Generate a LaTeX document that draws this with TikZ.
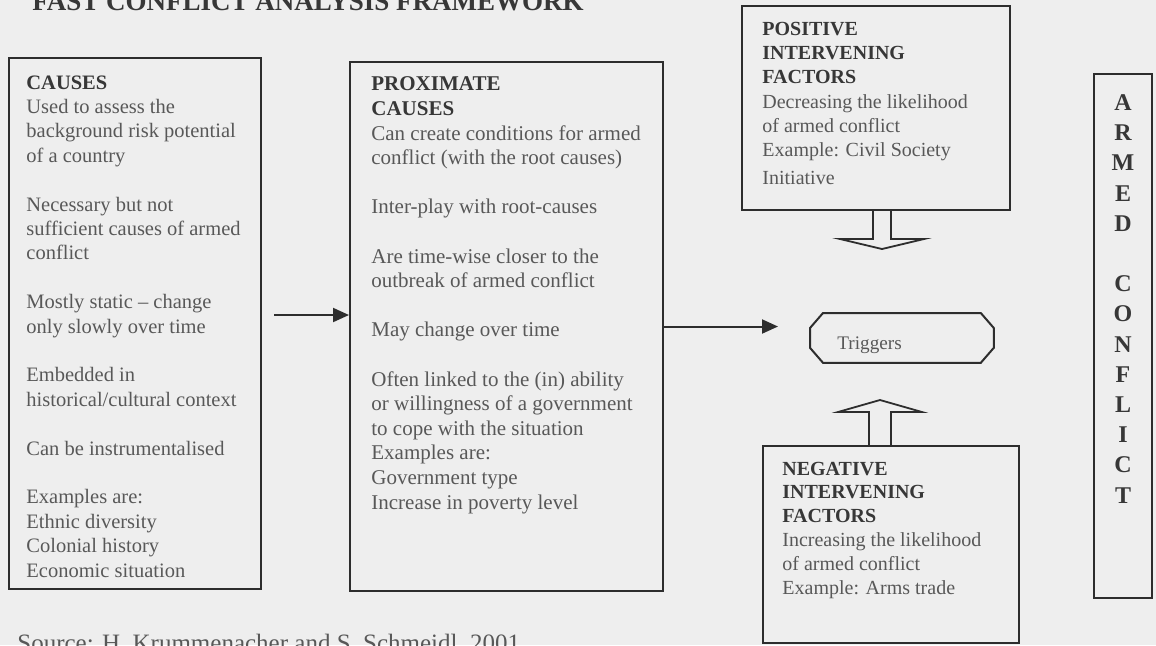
\documentclass[tikz,border=0pt]{standalone}
\usepackage{fontspec}
\setmainfont{Liberation Serif}
\usetikzlibrary{arrows.meta,calc}
\definecolor{bg}{RGB}{238,238,238}
\definecolor{ln}{RGB}{45,45,45}
\definecolor{txt}{RGB}{88,88,88}
\definecolor{hd}{RGB}{55,55,55}
\begin{document}
\begin{tikzpicture}[x=0.5pt,y=-0.5pt,
  box/.style={draw=ln, line width=1pt, anchor=north west, inner sep=0pt},
  body/.style={anchor=base west, inner sep=0pt, align=left, text=txt},
  arr/.style={draw=ln, line width=1pt, -{Triangle[length=8pt,width=7pt]}},
  blk/.style={draw=ln, line width=0.9pt, line join=miter}]
\fill[bg] (0,0) rectangle (1156,645);
\useasboundingbox (0,0) rectangle (1156,645);

% title (cut at top edge)
\node[anchor=base west, inner sep=0pt, font=\bfseries\fontsize{13.5}{16}\selectfont, text=hd] (title) at (32,10) {FAST CONFLICT ANALYSIS FRAMEWORK};

% boxes
\node[box, minimum width=126pt, minimum height=265.5pt] (causes) at (8,57) {};
\node[box, minimum width=156.5pt, minimum height=264.5pt] (prox) at (349,61) {};
\node[box, minimum width=134pt, minimum height=102pt] (pos) at (741,5) {};
\node[box, minimum width=128pt, minimum height=98.5pt] (neg) at (762,445) {};
\node[box, minimum width=29pt, minimum height=262pt] (armed) at (1093,73) {};
\node[anchor=north west, inner sep=0pt, minimum width=91.5pt, minimum height=24.5pt] (trig) at (810,313) {};
\draw[draw=ln, line width=1pt]
  ([xshift=6.5pt]trig.north west) -- ([xshift=-6.5pt]trig.north east)
  -- ([yshift=-7.5pt]trig.north east) -- ([yshift=7.5pt]trig.south east)
  -- ([xshift=-6.5pt]trig.south east) -- ([xshift=6.5pt]trig.south west)
  -- ([yshift=7.5pt]trig.south west) -- ([yshift=-7.5pt]trig.north west) -- cycle;

% texts (anchored at the baseline of the last line)
\node[body, font=\fontsize{10.25}{12.2}\selectfont] (causestxt) at (26,577)
 {\textbf{\color{hd}CAUSES}\\
  Used to assess the\\
  background risk potential\\
  of a country\\[12.2pt]
  Necessary but not\\
  sufficient causes of armed\\
  conflict\\[12.2pt]
  Mostly static – change\\
  only slowly over time\\[12.2pt]
  Embedded in\\
  historical/cultural context\\[12.2pt]
  Can be instrumentalised\\[12.2pt]
  Examples are:\\
  Ethnic diversity\\
  Colonial history\\
  Economic situation};

\node[body, font=\fontsize{10.5}{12.3}\selectfont] (proxtxt) at (371,509)
 {\textbf{\color{hd}PROXIMATE}\\
  \textbf{\color{hd}CAUSES}\\
  Can create conditions for armed\\
  conflict (with the root causes)\\[12.3pt]
  Inter-play with root-causes\\[12.3pt]
  Are time-wise closer to the\\
  outbreak of armed conflict\\[12.3pt]
  May change over time\\[12.3pt]
  Often linked to the (in) ability\\
  or willingness of a government\\
  to cope with the situation\\
  Examples are:\\
  Government type\\
  Increase in poverty level};

\node[body, font=\fontsize{10}{12.15}\selectfont] (postxt) at (762,184)
 {\textbf{\color{hd}POSITIVE}\\
  \textbf{\color{hd}INTERVENING}\\
  \textbf{\color{hd}FACTORS}\\
  Decreasing the likelihood\\
  of armed conflict\\
  Example: Civil Society\\[1.5pt]
  Initiative};

\node[body, font=\fontsize{10}{11.9}\selectfont] (negtxt) at (782,594)
 {\textbf{\color{hd}NEGATIVE}\\
  \textbf{\color{hd}INTERVENING}\\
  \textbf{\color{hd}FACTORS}\\
  Increasing the likelihood\\
  of armed conflict\\
  Example: Arms trade};

\node[anchor=base west, inner sep=0pt, font=\fontsize{9.6}{11}\selectfont, text=txt] (trigtxt) at (837,349) {Triggers};

\node[anchor=base, inner sep=0pt, align=center, text=hd, font=\bfseries\fontsize{12}{15.1}\selectfont] (armedtxt) at (1123,503)
 {A\\R\\M\\E\\D\\[15.1pt]C\\O\\N\\F\\L\\I\\C\\T};

\node[anchor=base west, inner sep=0pt, font=\fontsize{12.5}{15}\selectfont, text=txt] (src) at (17,651) {Source: H. Krummenacher and S. Schmeidl, 2001};

% connectors
\coordinate (a1) at ([yshift=4.25pt]causes.east);
\draw[arr, shorten <=6pt] (a1) -- (a1 -| prox.west);
\draw[arr, shorten >=16pt] (prox.east) -- (prox.east -| trig.west);

% block arrows
\path (pos.south) ++(6,0) coordinate (dn);
\draw[blk] ($(dn)+(-9,0)$) -- ++(0,28) -- ++(-33,0) -- ++(42,10) -- ++(42,-10) -- ++(-33,0) -- ++(0,-28);
\path (neg.north) ++(-11,0) coordinate (up);
\draw[blk] ($(up)+(-11,0)$) -- ++(0,-33) -- ++(-31,0) -- ++(42,-12) -- ++(42,12) -- ++(-31,0) -- ++(0,33);
\end{tikzpicture}
\end{document}
